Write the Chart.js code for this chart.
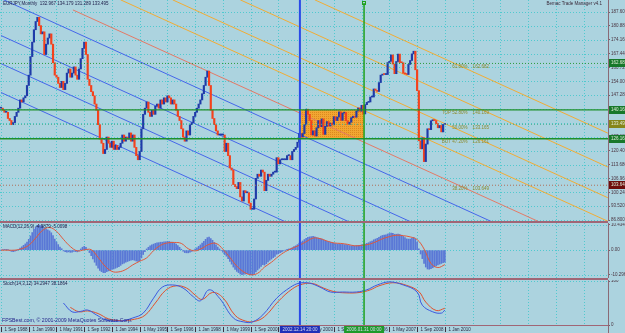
<!DOCTYPE html>
<html>
<head>
<meta charset="utf-8">
<title>EURJPY Monthly</title>
<script src="https://cdn.jsdelivr.net/npm/chart.js@4.4.1/dist/chart.umd.min.js"></script>
<style>
  body { margin: 0; background: #acd3df; }
  #wrap { position: relative; width: 625px; height: 333px; overflow: hidden; background: #acd3df; }
  #wrap canvas { position: absolute; left: 0; }
  .sep { position: absolute; left: 0; width: 608px; height: 2px; background: #a06676; }
</style>
</head>
<body>
<div id="wrap">
  <canvas id="mainChart" width="625" height="221" style="top:0"></canvas>
  <div class="sep" style="top:221px"></div>
  <canvas id="macdChart" width="625" height="55" style="top:223px"></canvas>
  <div class="sep" style="top:278px"></div>
  <canvas id="stochChart" width="625" height="53" style="top:280px"></canvas>
</div>
<script>
// monthly closes, index 0 = Sep 1988 ... index 256 = Jan 2010
const closes = [
  141, 140, 139, 139,
  136, 135, 133, 134, 137, 139, 141, 145, 144, 146, 147, 152,
  157, 166, 173, 179, 183, 185, 181, 177, 178, 167, 172, 175,
  177, 172, 163, 157, 156, 153, 151, 154, 150, 153, 158, 160,
  156, 158, 161, 157, 155, 160, 165, 170, 173, 167, 155, 152,
  149, 147, 143, 140, 133, 126, 124, 119, 121, 127, 124, 122,
  125, 121, 123, 121, 122, 124, 128, 125, 127, 126, 129, 125,
  128, 122, 118, 116, 120, 131, 138, 141, 144, 139, 137, 140,
  138, 142, 143, 141, 145, 143, 146, 144, 147, 146, 143, 145,
  143, 140, 137, 135, 131, 127, 125, 130, 128, 133, 134, 137,
  139, 141, 143, 145, 148, 152, 156, 159, 152, 140, 136, 133,
  130, 128, 128, 128, 128, 120, 124, 118, 112, 111, 104, 103,
  102, 105, 98, 96, 101, 100, 100, 95, 92, 92, 97, 107,
  109, 108, 111, 110, 101, 106, 109, 108, 109, 110, 110, 117,
  114, 116, 116, 116, 116, 118, 118, 116, 120, 121, 122, 124.5,
  128.7, 127, 128.7, 132.9, 140.5, 138, 135, 128, 130, 127.5, 131.5, 135,
  132, 135.8, 128.3, 132.2, 134.5, 132.4, 133.7, 132.9, 136.9, 135, 136.7, 139.2,
  135.1, 138.6, 138.9, 134.9, 133.2, 134.2, 136.4, 137.1, 136.6, 139.6, 141.1, 139.5,
  142.4, 138.2, 142.7, 143.8, 144, 146.4, 146.4, 150.3, 149.6, 149.1, 153.4, 157,
  157.5, 157.3, 157.3, 163.1, 163.7, 166.8, 162.4, 157.7, 163.6, 167.2, 163.1, 163,
  157.9, 157.6, 157.3, 162.2, 164.1, 167.3, 168.6, 159.6, 149.5, 125.2, 121.3, 126.7,
  115.1, 123.6, 131, 130.6, 134.9, 135.3, 135, 133.5, 131.5, 132.6, 129.5, 133.1,
  133.5
];

// MACD main line (histogram), one value per month
const macdMain = [
  0, 0.2, 0.3, 0.3, 0.1, -0.2, -0.5, -0.6, -0.4, -0.1,
  0.3, 0.9, 1.4, 2.0, 2.6, 3.4, 4.5, 5.9, 7.3, 8.6,
  9.6, 10.3, 10.4, 10.2, 10.0, 9.0, 8.6, 8.4, 8.0, 7.2,
  6.0, 4.6, 3.4, 2.3, 1.3, 0.6, -0.3, -0.6, -0.8, -0.7,
  -0.9, -0.8, -0.5, -0.6, -0.7, -0.3, 0.5, 1.2, 1.6, 1.2,
  0.2, -1.0, -2.3, -3.6, -5.0, -6.3, -7.5, -8.4, -8.9, -9.3,
  -9.3, -8.9, -8.6, -8.4, -8.0, -7.8, -7.5, -7.2, -6.8, -6.3,
  -5.7, -5.4, -5.0, -4.7, -4.4, -4.2, -4.0, -4.2, -4.5, -4.7,
  -4.4, -3.2, -1.8, -0.6, 0.5, 1.2, 1.8, 2.2, 2.5, 2.8,
  3.0, 3.1, 3.3, 3.3, 3.5, 3.5, 3.6, 3.6, 3.4, 3.3,
  3.0, 2.5, 1.9, 1.2, 0.4, -0.4, -1.0, -1.1, -1.1, -0.8,
  -0.5, 0.0, 0.5, 1.0, 1.6, 2.2, 2.9, 3.7, 4.5, 5.2,
  5.4, 4.8, 4.1, 3.2, 2.2, 1.3, 0.5, -0.2, -0.8, -1.8,
  -2.5, -3.5, -4.7, -5.8, -7.0, -8.0, -8.8, -9.3, -9.9, -10.2,
  -10.0, -9.9, -9.7, -9.9, -10.2, -10.3, -9.9, -9.0, -8.2, -7.5,
  -6.7, -6.0, -6.2, -5.6, -4.9, -4.2, -3.7, -3.1, -2.6, -1.7,
  -1.5, -1.0, -0.7, -0.3, 0.0, 0.3, 0.5, 0.6, 1.0, 1.5,
  1.8, 2.3, 2.9, 3.4, 3.8, 4.4, 4.9, 5.3, 5.5, 5.6,
  5.7, 5.5, 5.2, 5.0, 4.8, 4.6, 4.3, 4.0, 3.7, 3.5,
  3.3, 3.0, 2.9, 2.7, 2.6, 2.5, 2.4, 2.4, 2.3, 2.3,
  2.1, 1.9, 1.8, 1.8, 1.8, 1.9, 2.0, 2.0, 2.2, 2.2,
  2.5, 2.8, 3.1, 3.5, 3.8, 4.3, 4.6, 4.9, 5.3, 5.8,
  6.1, 6.3, 6.4, 6.7, 6.9, 7.1, 7.0, 6.6, 6.6, 6.7,
  6.5, 6.2, 5.7, 5.2, 4.7, 4.6, 4.6, 4.9, 5.2, 4.6,
  3.4, 0.6, -1.6, -3.5, -5.5, -7.0, -7.8, -7.9, -7.7, -7.3,
  -6.9, -6.5, -6.1, -5.8, -5.5, -5.2, -5.0
];

// MACD signal line, read as [month index, value]
const macdSignal = [
  [0, 0], [4, 0], [8, 0], [12, 0.6], [16, 2], [20, 5], [24, 8.2], [28, 9.4], [32, 7.8],
  [36, 4.5], [40, 1.5], [44, -0.3], [48, 0.1], [52, 0.2], [56, -3], [60, -6.6], [64, -8.8],
  [68, -9], [72, -8], [76, -6.1], [80, -4.6], [84, -3.2], [88, -0.2], [92, 2], [96, 3],
  [100, 3.2], [104, 2.8], [108, 0.6], [112, -0.3], [116, 0.8], [120, 2.4], [124, 2.8],
  [128, 0.4], [132, -3], [136, -6.6], [140, -9], [144, -10.2], [148, -9.6], [152, -7],
  [156, -5], [160, -2.6], [164, -0.6], [168, 0.8], [172, 2], [176, 3.5], [180, 5],
  [184, 4.8], [188, 3.8], [192, 3], [196, 2.8], [200, 2.4], [204, 1.8], [208, 2],
  [212, 2.4], [216, 3.4], [220, 4.7], [224, 5.6], [228, 6.2], [232, 6], [236, 5.5],
  [240, 4.4], [244, 0.5], [248, -5.5], [252, -7.2], [256, -6]
];

// Stochastic main and signal, [month index, value]
const stochMain = [
  [36, 50], [41, 30], [46, 31], [50, 34], [55, 23], [61, 11], [69, 9], [76, 16], [82, 27],
  [88, 61], [93, 86], [99, 91], [105, 84], [111, 64], [115, 55], [120, 80], [126, 61],
  [134, 16], [140, 7], [145, 7], [151, 23], [159, 61], [167, 86], [172, 95], [178, 95],
  [184, 86], [190, 75], [197, 75], [205, 75], [211, 80], [217, 91], [224, 98], [232, 91],
  [240, 75], [243, 45], [249, 30], [254, 27], [256, 34]
];
const stochSignal = [
  [40, 40], [45, 30], [50, 32], [56, 26], [62, 14], [69, 10], [77, 13], [83, 22], [89, 50],
  [95, 79], [101, 89], [107, 84], [112, 68], [116, 58], [122, 74], [128, 62], [135, 22],
  [141, 9], [146, 8], [152, 19], [160, 54], [168, 82], [174, 93], [180, 94], [186, 84],
  [192, 76], [199, 73], [207, 74], [213, 80], [218, 89], [226, 96], [234, 90], [241, 76],
  [245, 52], [251, 33], [256, 38]
];

const priceTicks = [187.6, 180.88, 174.16, 167.44, 160.72, 154.0, 147.28, 140.56, 133.84,
  127.12, 120.4, 113.68, 106.96, 100.24, 93.52, 86.8];
const macdTicks = [10.4348, 0, -10.296];
const macdTickText = ['10.4348', '0.00', '-10.296'];
const stochTicks = [100, 0];
const timeLabels = ['1 Sep 1988', '1 Jan 1990', '1 May 1991', '1 Sep 1992', '1 Jan 1994',
  '1 May 1995', '1 Sep 1996', '1 Jan 1998', '1 May 1999', '1 Sep 2000', '1 Jan 2002',
  '1 May 2003', '1 Sep 2004', '1 Jan 2006', '1 May 2007', '1 Sep 2008', '1 Jan 2010'];

const fibNames = ['61.80%', 'TOP 52.80%', '50.00%', 'BOT 47.20%', '38.20%'];
const fibValues = [162.682, 140.169, 133.165, 126.161, 103.649];
const lastPrice = 133.495;

// trend lines as [month0, price0, month1, price1]
const blueChannel = [[0, 194.1, 350, 60.4], [0, 176.2, 350, 42.5], [0, 162.6, 350, 28.9], [0, 148.6, 350, 14.9]];
const redTrend = [41.5, 188.6, 350, 70.8];
const orangeFan = [[181, 193.5, 350, 128.9], [138, 193.5, 350, 112.5], [99, 193.5, 350, 97.6], [69, 193.5, 350, 86.2]];
const blueMarker = 172.4;
const greenMarker = 209.4;
const blueMarkerText = '2002.12.14 20:00';
const greenMarkerText = '2006.01.31 00:00';

// ---- layout / style ----
const X_MIN = -0.58, X_MAX = 350.1, AXIS_W = 17;
const MAIN_MIN = 86.32, MAIN_MAX = 193.42;
const MACD_MIN = -11.54, MACD_MAX = 11.26;
const BG = '#acd3df';
const GRID = 'rgba(70,200,205,0.9)';
const FONT = '"Liberation Sans", Arial, sans-serif';
const UP = '#1f3aa8', DOWN = '#f4411c';

function seg(p, color, width, dash, order) {
  return {
    type: 'line', data: [{ x: p[0], y: p[1] }, { x: p[2], y: p[3] }],
    borderColor: color, borderWidth: width, borderDash: dash || [],
    pointRadius: 0, fill: false, order: order === undefined ? 2 : order
  };
}
function hline(v, color, width, dash) { return seg([X_MIN, v, X_MAX, v], color, width, dash, 0); }
function vline(x, lo, hi, color, width) { return seg([x, lo, x, hi], color, width, [], 0); }

function rightAxis(min, max, ticks, fmt) {
  return {
    position: 'right', min: min, max: max,
    afterBuildTicks: a => { a.ticks = ticks.map(v => ({ value: v })); },
    afterFit: a => { a.width = AXIS_W; a.paddingTop = 0; a.paddingBottom = 0; },
    ticks: { callback: fmt, font: { family: FONT, size: 4.5 }, color: '#4a3440', padding: 1, autoSkip: false },
    grid: { drawOnChartArea: false, tickLength: 2, color: '#7a5a66' },
    border: { color: '#8a6a76' }
  };
}
function xAxis() { return { type: 'linear', min: X_MIN, max: X_MAX, display: false, offset: false }; }

function drawGrid(chart, yVals) {
  const { ctx, chartArea: a, scales: { x, y } } = chart;
  ctx.save();
  ctx.strokeStyle = GRID; ctx.lineWidth = 1; ctx.setLineDash([1, 2]);
  ctx.beginPath();
  for (let k = 0; k * 16 <= X_MAX; k++) {
    const px = Math.round(x.getPixelForValue(k * 16)) + 0.5;
    ctx.moveTo(px, a.top); ctx.lineTo(px, a.bottom);
  }
  yVals.forEach(v => {
    const py = Math.round(y.getPixelForValue(v)) + 0.5;
    ctx.moveTo(a.left, py); ctx.lineTo(a.right, py);
  });
  ctx.stroke();
  ctx.restore();
}
function fillBg(chart) {
  const ctx = chart.ctx;
  ctx.save(); ctx.fillStyle = BG; ctx.fillRect(0, 0, chart.width, chart.height); ctx.restore();
}
function label(ctx, text, x, y, color, size, align) {
  ctx.save();
  ctx.font = size + 'px ' + FONT; ctx.fillStyle = color;
  ctx.textAlign = align || 'left'; ctx.textBaseline = 'top';
  ctx.fillText(text, x, y);
  ctx.restore();
}

function boxPattern(ctx) {
  const c = document.createElement('canvas');
  c.width = 2; c.height = 2;
  const p = c.getContext('2d');
  p.fillStyle = '#f2a632'; p.fillRect(0, 0, 2, 2);
  p.fillStyle = '#dc8a1e'; p.fillRect(0, 0, 1, 1);
  return ctx.createPattern(c, 'repeat');
}

const mainDeco = {
  id: 'mainDeco',
  beforeDraw: fillBg,
  beforeDatasetsDraw(chart) {
    drawGrid(chart, priceTicks);
    const { ctx, scales: { x, y } } = chart;
    const x0 = x.getPixelForValue(blueMarker), x1 = x.getPixelForValue(greenMarker);
    const y0 = y.getPixelForValue(fibValues[1]), y1 = y.getPixelForValue(fibValues[3]);
    ctx.save();
    ctx.fillStyle = boxPattern(ctx);
    ctx.fillRect(x0, y0, x1 - x0, y1 - y0);
    ctx.restore();
  },
  afterDatasetsDraw(chart) {
    const { ctx, chartArea: a, scales: { x, y } } = chart;
    // fibo captions
    const tx = x.getPixelForValue(281.4);
    fibNames.forEach((n, i) => {
      label(ctx, n + '    ' + fibValues[i].toFixed(3), tx, y.getPixelForValue(fibValues[i]) + 1, '#8c8a2c', 4.5, 'right');
    });
    label(ctx, 'EURJPY,Monthly  132.967 134.179 131.289 133.495', 3, 2, '#1c1c48', 4.5);
    label(ctx, 'Bemac Trade Manager v4.1', 602, 2, '#3a2a3a', 4.5, 'right');
    // price tags on the axis
    const tags = [[fibValues[0], '#17782a'], [fibValues[1], '#17782a'], [lastPrice, '#86861a'],
      [fibValues[3], '#17782a'], [fibValues[4], '#6e0c0c']];
    tags.forEach(t => {
      const py = Math.round(y.getPixelForValue(t[0]));
      ctx.fillStyle = t[1];
      ctx.fillRect(a.right + 1, py - 4, AXIS_W, 8);
      label(ctx, t[0].toFixed(3), a.right + 3, py - 2.5, '#e0ecd8', 4.5);
    });
    // anchor of the green line
    const gx = Math.round(x.getPixelForValue(greenMarker));
    ctx.strokeStyle = '#1ea01e'; ctx.lineWidth = 1;
    ctx.strokeRect(gx - 1.5, 1.5, 3, 3);
  }
};

const macdDeco = {
  id: 'macdDeco',
  beforeDraw: fillBg,
  beforeDatasetsDraw(chart) { drawGrid(chart, macdTicks); },
  afterDatasetsDraw(chart) {
    label(chart.ctx, 'MACD(12,26,9) -4.9879 -5.0098', 3, 2, '#1c1c48', 4.5);
  }
};

const stochDeco = {
  id: 'stochDeco',
  beforeDraw: fillBg,
  beforeDatasetsDraw(chart) { drawGrid(chart, stochTicks); },
  afterDatasetsDraw(chart) {
    const { ctx, chartArea: a, scales: { x } } = chart;
    label(ctx, 'Stoch(14,3,12) 34.2947 38.1864', 3, 2, '#1c1c48', 4.5);
    label(ctx, 'FPSBest.com, \u00a9 2001-2009 MetaQuotes Software Corp.', 2, a.bottom - 7, '#24248a', 5.2);
    ctx.save();
    ctx.fillStyle = '#a06676';
    ctx.fillRect(0, a.bottom, a.right + 1, 1);
    ctx.fillStyle = '#8a6a76';
    ctx.fillRect(a.right, 0, 1, chart.height);
    ctx.restore();
    // time axis
    timeLabels.forEach((t, k) => {
      const px = Math.round(x.getPixelForValue(k * 16)) + 0.5;
      ctx.save();
      ctx.strokeStyle = '#403040'; ctx.lineWidth = 1;
      ctx.beginPath(); ctx.moveTo(px, a.bottom + 2); ctx.lineTo(px, a.bottom + 7); ctx.stroke();
      ctx.restore();
      label(ctx, t, px + 3, a.bottom + 2.5, '#2a2a44', 4.5);
    });
    [[blueMarker, '#1f30b8', blueMarkerText], [greenMarker, '#1e9a2a', greenMarkerText]].forEach(m => {
      const px = x.getPixelForValue(m[0]);
      ctx.fillStyle = m[1];
      ctx.fillRect(px - 20, a.bottom + 1, 40, 8);
      label(ctx, m[2], px, a.bottom + 2.5, '#d8dcf0', 4.5, 'center');
    });
  }
};

const common = {
  responsive: false, animation: false, devicePixelRatio: 1,
  plugins: { legend: { display: false }, tooltip: { enabled: false } }
};

// ---- main price panel ----
const candles = {
  type: 'bar',
  data: closes.map((c, i) => ({ x: i, y: [i ? closes[i - 1] : c, c] })),
  backgroundColor: c => (c.raw && c.raw.y[1] >= c.raw.y[0] ? UP : DOWN),
  barThickness: 1.5, minBarLength: 1, order: 1
};
const mainSets = [candles];
blueChannel.forEach(p => mainSets.push(seg(p, '#4566ea', 1)));
mainSets.push(seg(redTrend, '#e47a66', 1));
orangeFan.forEach(p => mainSets.push(seg(p, '#f2ac34', 1)));
mainSets.push(hline(fibValues[0], '#2a9a3a', 1, [1, 2]));
mainSets.push(hline(fibValues[1], '#1f8f2a', 1.4));
mainSets.push(hline(fibValues[2], '#4aae8c', 1, [1, 2]));
mainSets.push(hline(fibValues[3], '#1f8f2a', 1.4));
mainSets.push(hline(fibValues[4], '#b0705a', 1, [1, 2]));
mainSets.push(vline(blueMarker, MAIN_MIN, MAIN_MAX, '#2a4ae8', 2));
mainSets.push(vline(greenMarker, MAIN_MIN, MAIN_MAX - 1.5, '#1ea01e', 1.5));

new Chart(document.getElementById('mainChart'), {
  type: 'bar',
  data: { datasets: mainSets },
  options: Object.assign({}, common, {
    layout: { padding: 0 },
    scales: { x: xAxis(), y: rightAxis(MAIN_MIN, MAIN_MAX, priceTicks, v => v.toFixed(3)) }
  }),
  plugins: [mainDeco]
});

// ---- MACD panel ----
new Chart(document.getElementById('macdChart'), {
  type: 'bar',
  data: {
    datasets: [
      { type: 'bar', data: macdMain.map((v, i) => ({ x: i, y: v })), backgroundColor: '#5a78d6', barThickness: 1, order: 2 },
      { type: 'line', data: macdSignal.map(p => ({ x: p[0], y: p[1] })), borderColor: '#e2583a', borderWidth: 1,
        pointRadius: 0, tension: 0.4, fill: false, order: 1 },
      vline(blueMarker, MACD_MIN, MACD_MAX, '#2a4ae8', 2),
      vline(greenMarker, MACD_MIN, MACD_MAX, '#1ea01e', 1.5)
    ]
  },
  options: Object.assign({}, common, {
    layout: { padding: 0 },
    scales: { x: xAxis(), y: rightAxis(MACD_MIN, MACD_MAX, macdTicks, (v, i) => macdTickText[i]) }
  }),
  plugins: [macdDeco]
});

// ---- Stochastic panel ----
new Chart(document.getElementById('stochChart'), {
  type: 'line',
  data: {
    datasets: [
      { data: stochMain.map(p => ({ x: p[0], y: p[1] })), borderColor: '#3c5ae0', borderWidth: 1,
        pointRadius: 0, tension: 0.4, fill: false, order: 1 },
      { data: stochSignal.map(p => ({ x: p[0], y: p[1] })), borderColor: '#e2502a', borderWidth: 1,
        pointRadius: 0, tension: 0.4, fill: false, order: 2 },
      vline(blueMarker, 0, 100, '#2a4ae8', 2),
      vline(greenMarker, 0, 100, '#1ea01e', 1.5)
    ]
  },
  options: Object.assign({}, common, {
    layout: { padding: { top: 1, bottom: 8, left: 0, right: 0 } },
    scales: { x: xAxis(), y: rightAxis(0, 100, stochTicks, v => String(v)) }
  }),
  plugins: [stochDeco]
});
</script>
</body>
</html>
